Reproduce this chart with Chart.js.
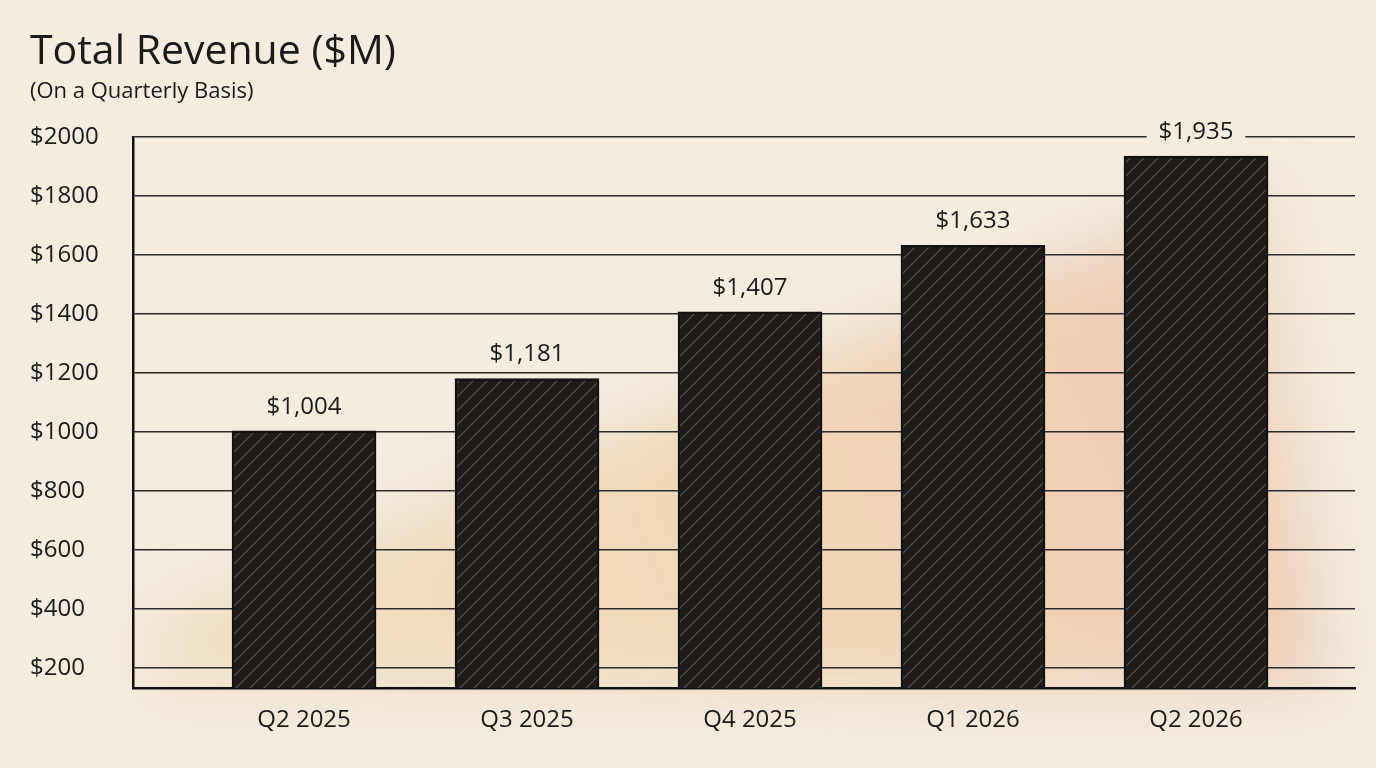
<!DOCTYPE html>
<html>
<head>
<meta charset="utf-8">
<script src="https://cdn.jsdelivr.net/npm/chart.js@4.4.1/dist/chart.umd.min.js"></script>
<style>
  html, body { margin: 0; padding: 0; background: #f3ecdf; }
  #wrap { width: 1376px; height: 768px; }
</style>
</head>
<body>
<div id="wrap"><canvas id="c" width="1376" height="768"></canvas></div>
<script>
const quarters = ['Q2 2025', 'Q3 2025', 'Q4 2025', 'Q1 2026', 'Q2 2026'];
const revenue = [1004, 1181, 1407, 1633, 1935];
const yTicks = [200, 400, 600, 800, 1000, 1200, 1400, 1600, 1800, 2000];

const font = "'Open Sans', 'DejaVu Sans', sans-serif";

// diagonal hatch for the bars, a bit like the sketch
function hatch(ctx) {
  const p = document.createElement('canvas');
  p.width = 14; p.height = 14;
  const g = p.getContext('2d');
  g.fillStyle = '#1e1b19';
  g.fillRect(0, 0, 14, 14);
  g.strokeStyle = 'rgba(110,105,100,0.7)';
  g.lineWidth = 1.2;
  g.beginPath();
  g.moveTo(0, 14); g.lineTo(14, 0);
  g.moveTo(-7, 7); g.lineTo(7, -7);
  g.moveTo(7, 21); g.lineTo(21, 7);
  g.stroke();
  return ctx.createPattern(p, 'repeat');
}

const decor = {
  id: 'decor',
  beforeDraw(chart) {
    const { ctx, chartArea: a } = chart;
    ctx.save();
    ctx.fillStyle = '#f3ecdf';
    ctx.fillRect(0, 0, chart.width, chart.height);
    // soft warm wash behind the bars
    ctx.filter = 'blur(30px)';
    const g = ctx.createLinearGradient(a.left, a.bottom, a.right, a.top);
    g.addColorStop(0, 'rgba(240,190,120,0.25)');
    g.addColorStop(0.5, 'rgba(238,175,110,0.35)');
    g.addColorStop(0.8, 'rgba(232,150,110,0.35)');
    g.addColorStop(1, 'rgba(240,190,120,0.1)');
    ctx.fillStyle = g;
    ctx.beginPath();
    ctx.moveTo(a.left + 20, a.bottom);
    ctx.lineTo(a.left + 20, a.bottom - 70);
    ctx.lineTo(a.right - 80, a.top + 40);
    ctx.lineTo(a.right - 30, a.bottom);
    ctx.closePath();
    ctx.fill();
    ctx.filter = 'none';
    ctx.fillStyle = '#1a1a1a';
    ctx.textBaseline = 'alphabetic';
    ctx.font = `500 41px ${font}`;
    ctx.fillText('Total Revenue ($M)', 30, 64);
    ctx.font = `22px ${font}`;
    ctx.fillText('(On a Quarterly Basis)', 30, 98);
    ctx.restore();
  },
  afterDatasetsDraw(chart) {
    const { ctx } = chart;
    const meta = chart.getDatasetMeta(0);
    ctx.save();
    ctx.font = `500 24px ${font}`;
    ctx.textAlign = 'center';
    ctx.textBaseline = 'bottom';
    meta.data.forEach((bar, i) => {
      const txt = '$' + revenue[i].toLocaleString('en-US');
      const w = ctx.measureText(txt).width + 24;
      ctx.fillStyle = '#f3ecdf';
      ctx.fillRect(bar.x - w / 2, bar.y - 42, w, 30);
      ctx.fillStyle = '#1a1a1a';
      ctx.fillText(txt, bar.x, bar.y - 12);
    });
    ctx.restore();
  }
};

const ctx = document.getElementById('c').getContext('2d');
new Chart(ctx, {
  type: 'bar',
  data: {
    datasets: [{
      data: revenue.map((v, i) => ({ x: i, y: v })),
      backgroundColor: hatch(ctx),
      borderColor: '#111',
      borderWidth: 2.5,
      barThickness: 144
    }]
  },
  options: {
    responsive: false,
    animation: false,
    layout: { padding: { left: 30, right: 21, top: 137, bottom: 0 } },
    plugins: { legend: { display: false }, tooltip: { enabled: false } },
    scales: {
      x: {
        type: 'linear',
        offset: false,
        min: -0.767,
        max: 4.713,
        afterBuildTicks: s => { s.ticks = quarters.map((q, i) => ({ value: i })); },
        afterFit: s => { s.height = 80; },
        ticks: {
          callback: v => quarters[v],
          color: '#1a1a1a',
          font: { family: font, size: 24 },
          padding: 10
        },
        grid: { display: false },
        border: { color: '#111', width: 2.5 }
      },
      y: {
        min: 132,
        max: 2000,
        afterBuildTicks: s => { s.ticks = yTicks.map(v => ({ value: v })); },
        afterFit: s => { s.width = 103; },
        ticks: {
          callback: v => '$' + v,
          color: '#1a1a1a',
          font: { family: font, size: 24, weight: '500' },
          padding: 30,
          crossAlign: 'far'
        },
        grid: { color: '#2a2a2a', lineWidth: 1.4, drawTicks: false },
        border: { color: '#111', width: 2.5 }
      }
    }
  },
  plugins: [decor]
});
</script>
</body>
</html>
